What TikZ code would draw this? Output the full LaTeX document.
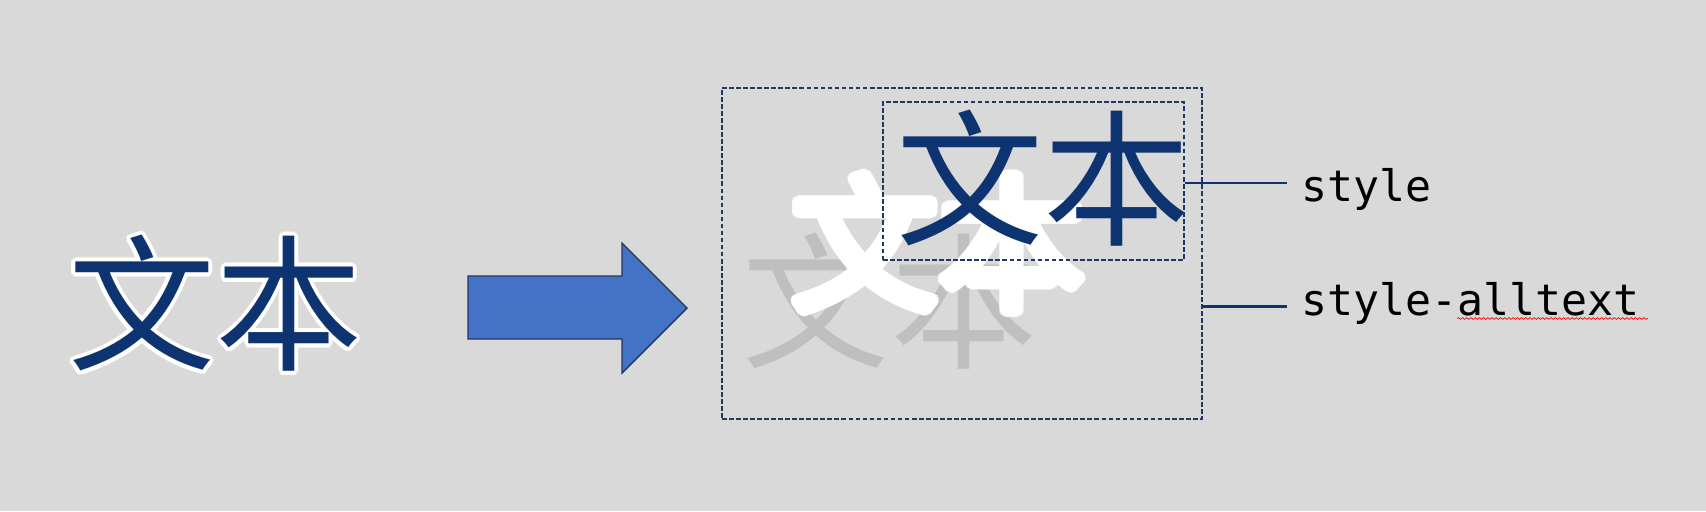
\documentclass[tikz,border=0pt]{standalone}
\usepackage{fontspec}
\newfontfamily\cjk{Noto Sans CJK SC}
\newfontfamily\codefont{DejaVu Sans Mono}
\usetikzlibrary{positioning,calc,fit,decorations.pathmorphing}
\definecolor{bggray}{HTML}{D9D9D9}
\definecolor{inknavy}{RGB}{13,51,112}
\definecolor{linenavy}{HTML}{1F3864}
\definecolor{ghostgray}{HTML}{BFBFBF}
\definecolor{arrowblue}{HTML}{4472C4}
\tikzset{
  glyph/.style={font={\cjk\fontsize{83.7pt}{90pt}\selectfont},inner sep=0pt},
  codelbl/.style={font={\codefont\fontsize{24.6pt}{30pt}\selectfont},inner sep=0pt,text=black},
  dashbox/.style={draw=linenavy,line width=0.85pt,dash pattern=on 2.7pt off 1.3pt,inner sep=0pt},
  lead/.style={draw=inknavy,line width=1.4pt},
  blockarrow/.style={fill=arrowblue,draw=linenavy,line width=0.8pt,line join=miter},
  squig/.style={draw=red,line width=0.4pt,decorate,decoration={snake,amplitude=0.5pt,segment length=2.4pt}},
}
\begin{document}
\begin{tikzpicture}[x=0.02cm,y=-0.02cm]
  \fill[bggray] (0,0) rectangle (1706,511);
  \useasboundingbox (0,0) rectangle (1706,511);
  % left word: navy with a thin white halo
  \coordinate (srcC) at (215.5,303.5);
  \foreach \a in {0,30,...,330}
    \node[glyph,text=white] (halo\a) at ($(srcC)+(\a:4)$) {文本};
  \node[glyph,text=inknavy] (srcWord) at (srcC) {文本};
  % block arrow
  \draw[blockarrow] (468,276) -- (622,276) -- (622,243) -- (687,308)
    -- (622,373) -- (622,339) -- (468,339) -- cycle;
  % ghost word
  \node[glyph,text=ghostgray] (ghostWord) at (890,301.5) {文本};
  % white thick outline word
  \coordinate (whiteC) at (938.5,243);
  \foreach \r in {2,4,6}{
    \foreach \a in {0,20,...,340}
      \node[glyph,text=white] (wh\r-\a) at ($(whiteC)+(\a:\r)$) {文本};
  }
  \node[glyph,text=white] (whiteWord) at (whiteC) {文本};
  % styled word on top
  \node[glyph,text=inknavy] (topWord) at (1043.5,178.5) {文本};
  % dashed frames
  \coordinate (outerNW) at (722,88);
  \coordinate (outerSE) at (1202,419);
  \coordinate (innerNW) at (883,102);
  \coordinate (innerSE) at (1184,260);
  \node[dashbox,fit=(outerNW)(outerSE)] (outerBox) {};
  \node[dashbox,fit=(innerNW)(innerSE)] (innerBox) {};
  % labels and leader lines
  \coordinate (styleTip) at (1287,183);
  \coordinate (allTip) at (1287,306.7);
  \draw[lead] (innerBox.east |- styleTip) -- (styleTip);
  \draw[lead] (outerBox.east |- allTip) -- (allTip);
  \node[codelbl,anchor=base west] (lblStyle) at (1301,201.7) {style};
  \node[codelbl,anchor=base west] (lblAll) at (1301,315.7) {style-alltext};
  \coordinate (sqA) at (1457,318.5);
  \coordinate (sqB) at (1648,318.5);
  \draw[squig] (sqA) -- (sqB);
\end{tikzpicture}
\end{document}
